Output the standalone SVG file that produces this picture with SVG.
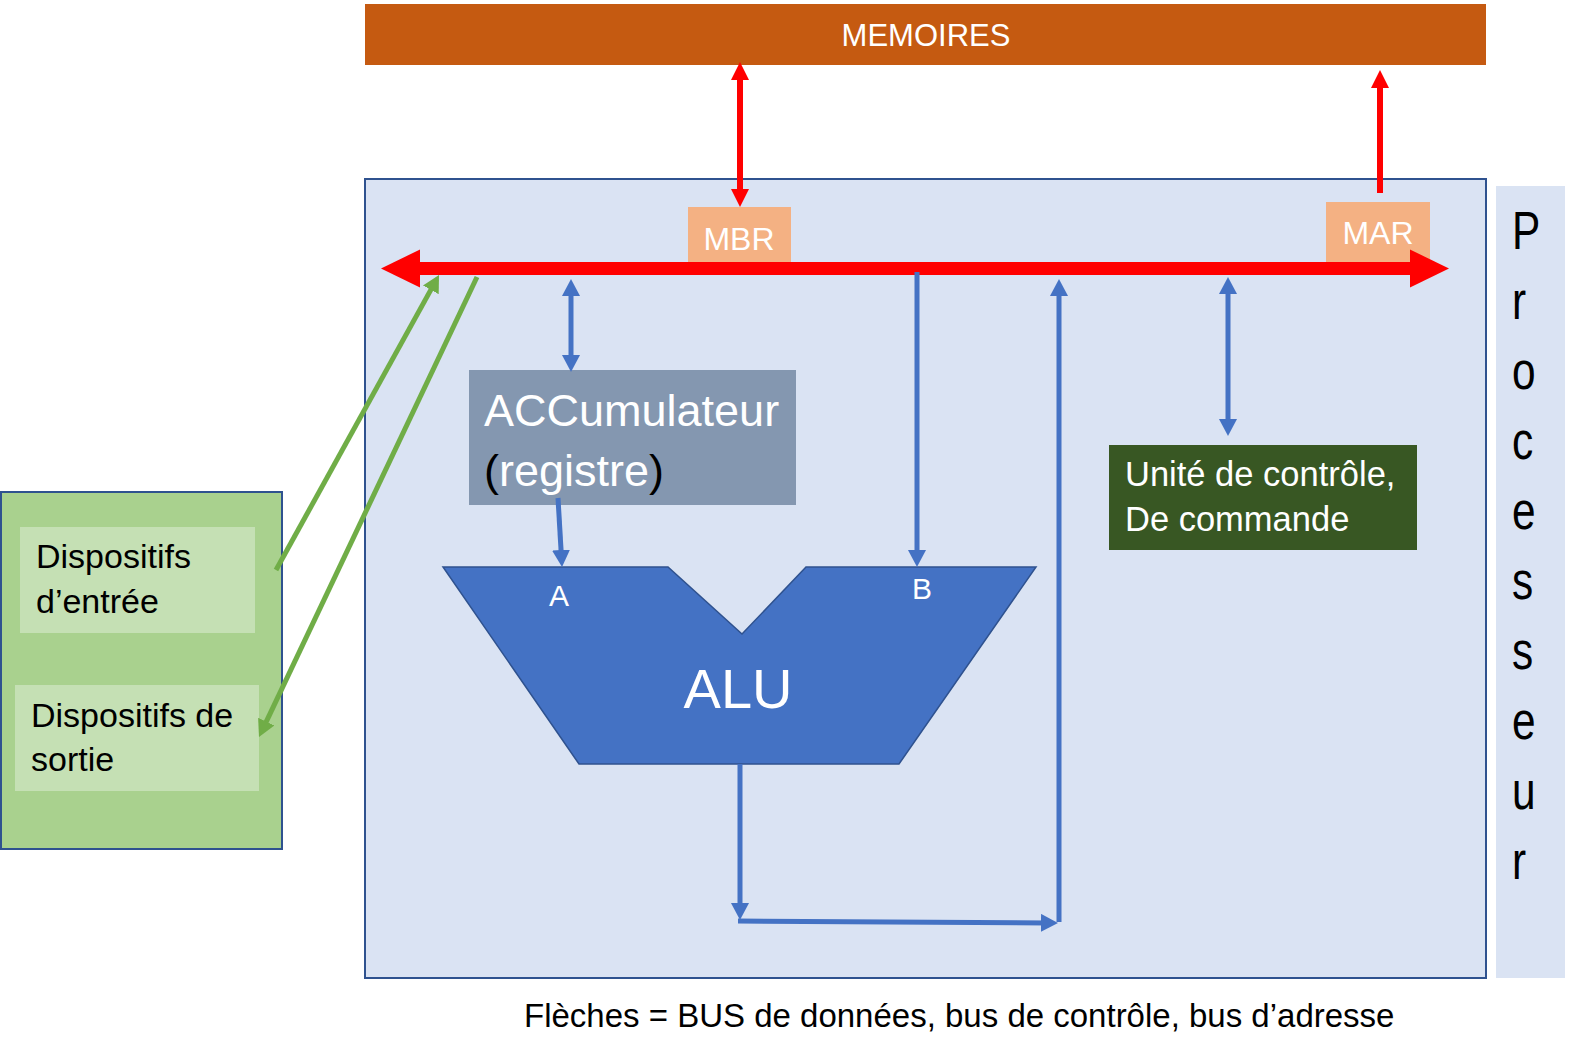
<svg xmlns="http://www.w3.org/2000/svg" width="1578" height="1063" viewBox="0 0 1578 1063">
  <style>
    text { font-family: "Liberation Sans", Arial, sans-serif; }
    .w { fill: #FFFFFF; }
    .k { fill: #000000; }
    .blue { stroke: #4472C4; stroke-width: 5; fill: none; }
    .red { stroke: #FF0000; stroke-width: 6; fill: none; }
    .green { stroke: #70AD47; stroke-width: 5; fill: none; }
  </style>
  <defs>
    <marker id="hb" markerUnits="userSpaceOnUse" markerWidth="17" markerHeight="18" viewBox="0 0 17 18" refX="6" refY="9" orient="auto-start-reverse">
      <path d="M0,0 L17,9 L0,18 Z" fill="#4472C4"/>
    </marker>
    <marker id="hr" markerUnits="userSpaceOnUse" markerWidth="18" markerHeight="18" viewBox="0 0 18 18" refX="6" refY="9" orient="auto-start-reverse">
      <path d="M0,0 L18,9 L0,18 Z" fill="#FF0000"/>
    </marker>
    <marker id="hg" markerUnits="userSpaceOnUse" markerWidth="17" markerHeight="18" viewBox="0 0 17 18" refX="6" refY="9" orient="auto-start-reverse">
      <path d="M0,0 L17,9 L0,18 Z" fill="#70AD47"/>
    </marker>
  </defs>

  <rect width="1578" height="1063" fill="#FFFFFF"/>

  <g id="memoires">
    <rect x="365" y="4" width="1121" height="61" fill="#C55A11"/>
    <text x="926" y="46" font-size="31" text-anchor="middle" class="w">MEMOIRES</text>
  </g>

  <g id="processeur">
    <rect x="365" y="179" width="1121" height="799" fill="#DAE3F3" stroke="#2F528F" stroke-width="2"/>
  </g>

  <g id="processeur-label">
    <rect x="1496" y="186" width="69" height="792" fill="#DAE3F3"/>
    <text font-size="53" class="k" transform="translate(1512,0) scale(0.8,1)">
      <tspan x="0" y="249.5">P</tspan>
      <tspan x="0" y="319.4">r</tspan>
      <tspan x="0" y="389.3">o</tspan>
      <tspan x="0" y="459.2">c</tspan>
      <tspan x="0" y="529.1">e</tspan>
      <tspan x="0" y="599">s</tspan>
      <tspan x="0" y="668.9">s</tspan>
      <tspan x="0" y="738.8">e</tspan>
      <tspan x="0" y="808.7">u</tspan>
      <tspan x="0" y="878.6">r</tspan>
    </text>
  </g>

  <g id="mbr">
    <rect x="688" y="207" width="103" height="56" fill="#F4B183"/>
    <text x="739" y="250" font-size="32" text-anchor="middle" class="w">MBR</text>
  </g>

  <g id="mar">
    <rect x="1326" y="202" width="104" height="61" fill="#F4B183"/>
    <text x="1378" y="244" font-size="32" text-anchor="middle" class="w">MAR</text>
  </g>

  <g id="bus">
    <rect x="418" y="262" width="994" height="13" fill="#FF0000"/>
    <polygon points="381,268.5 420,249.5 420,287.5" fill="#FF0000"/>
    <polygon points="1449,268.5 1410,249.5 1410,287.5" fill="#FF0000"/>
  </g>

  <g id="accumulateur">
    <rect x="469" y="370" width="327" height="135" fill="#8497B0"/>
    <text x="484" y="426" font-size="45" class="w">ACCumulateur</text>
    <text x="484" y="486" font-size="45" class="w"><tspan class="k">(</tspan>registre<tspan class="k">)</tspan></text>
  </g>

  <g id="alu">
    <polygon points="443,567 668,567 742,634 806,567 1036,567 899,764 579,764" fill="#4472C4" stroke="#2F528F" stroke-width="1.5"/>
    <text x="559" y="606" font-size="30" text-anchor="middle" class="w">A</text>
    <text x="922" y="599" font-size="30" text-anchor="middle" class="w">B</text>
    <text x="738" y="708" font-size="56" text-anchor="middle" class="w">ALU</text>
  </g>

  <g id="controle">
    <rect x="1109" y="445" width="308" height="105" fill="#385723"/>
    <text x="1125" y="486" font-size="34.5" class="w">Unité de contrôle,</text>
    <text x="1125" y="531" font-size="34.5" class="w">De commande</text>
  </g>

  <g id="peripheriques">
    <rect x="1" y="492" width="281" height="357" fill="#A9D18E" stroke="#2F528F" stroke-width="2"/>
  </g>

  <g id="entree">
    <rect x="20" y="527" width="235" height="106" fill="#C5E0B4"/>
    <text x="36" y="568" font-size="34" class="k">Dispositifs</text>
    <text x="36" y="613" font-size="34" class="k">d’entrée</text>
  </g>

  <g id="sortie">
    <rect x="15" y="685" width="244" height="106" fill="#C5E0B4"/>
    <text x="31" y="727" font-size="34" class="k">Dispositifs de</text>
    <text x="31" y="771" font-size="34" class="k">sortie</text>
  </g>

  <g id="connecteurs">
    <line class="red" x1="740" y1="74" x2="740" y2="195" marker-start="url(#hr)" marker-end="url(#hr)"/>
    <line class="red" x1="1380" y1="193" x2="1380" y2="82" marker-end="url(#hr)"/>
    <line class="blue" x1="571" y1="290" x2="571" y2="361" marker-start="url(#hb)" marker-end="url(#hb)"/>
    <line class="blue" x1="558" y1="498" x2="561.4" y2="556" marker-end="url(#hb)"/>
    <line class="blue" x1="917" y1="272" x2="917" y2="556" marker-end="url(#hb)"/>
    <line class="blue" x1="740" y1="764" x2="740" y2="909" marker-end="url(#hb)"/>
    <line class="blue" x1="738" y1="921" x2="1047" y2="922.9" marker-end="url(#hb)"/>
    <line class="blue" x1="1059" y1="922" x2="1059" y2="290" marker-end="url(#hb)"/>
    <line class="blue" x1="1228" y1="288" x2="1228" y2="425" marker-start="url(#hb)" marker-end="url(#hb)"/>
    <line class="green" x1="276" y1="570" x2="433.7" y2="284.6" marker-end="url(#hg)"/>
    <line class="green" x1="477" y1="277" x2="263.7" y2="727.1" marker-end="url(#hg)"/>
  </g>

  <text x="524" y="1027" font-size="33" class="k">Flèches = BUS de données, bus de contrôle, bus d’adresse</text>
</svg>
